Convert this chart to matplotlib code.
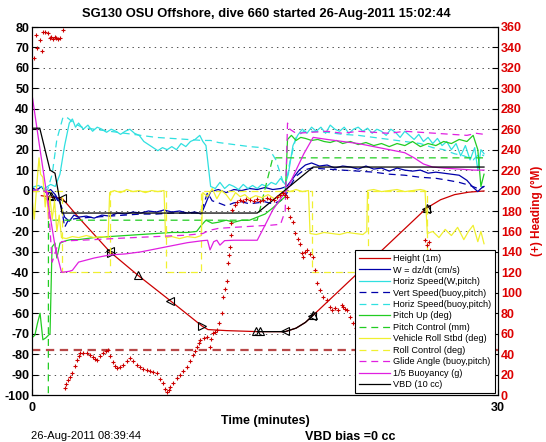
import numpy as np
import matplotlib
matplotlib.use('Agg')
import matplotlib.pyplot as plt

plt.rcParams['font.family'] = ['Liberation Sans', 'DejaVu Sans']
plt.rcParams['lines.scale_dashes'] = False
plt.rcParams['axes.unicode_minus'] = False

# ---- data: (time in minutes, value) ----
height = [(0.6, -2.5), (1.16, -3.2), (1.93, -3.7), (3.1, -14), (5.02, -30), (6.83, -41.5), (8.89, -53.8),
          (10.95, -66.3), (11.33, -68), (12.5, -68.5), (14.5, -69), (16.3, -69), (17.0, -67.3),
          (17.6, -64.5), (18.1, -61), (25.4, -8.6), (26.3, -4.5), (27.2, -2), (28.1, -0.8), (29.1, -0.2)]
apogee_span = (14.5, 18.1)   # part of the height trace drawn in black

tri_left = [(1.93, -3.7), (5.0, -29.8), (8.89, -53.8), (16.3, -68.8), (18.03, -61.3), (25.37, -8.8)]
tri_right = [(5.1, -30.5), (10.95, -66.3)]
tri_up = [(1.1, -2.4), (1.2, -2.6), (6.83, -41.5), (14.45, -68.5), (14.7, -68.8), (18.1, -60.8), (25.45, -8.3)]

w_speed = [(0, 1.5), (0.3, 0), (0.6, 2), (0.9, -1), (1.2, 0.5), (1.5, -2), (1.8, -6), (2.1, -13), (2.4, -15),
           (2.7, -12), (3.0, -13), (3.5, -12.5), (4.0, -13.5), (4.5, -12), (5.0, -12.5), (5.5, -11),
           (6.0, -11.5), (6.5, -10.5), (7.0, -11), (7.5, -10), (8.0, -10.5), (8.5, -9.5), (9.0, -10.5),
           (9.5, -10), (10.0, -11), (10.5, -10.5), (10.9, -11.5), (11.2, -6), (11.5, -0.5), (12.0, 0.5),
           (12.5, -1), (13.0, 0.5), (13.5, 0), (14.0, 1), (14.5, 0.5), (15.0, 1.5), (15.5, 0.5), (16.0, 1),
           (16.4, 2), (16.8, 6), (17.2, 10), (17.6, 12.5), (18.0, 13.5), (18.5, 12), (19.0, 12.5),
           (19.5, 11), (20.0, 12), (20.5, 11.5), (21.0, 10.5), (21.5, 12), (22.0, 10.5), (22.5, 11),
           (23.0, 9.5), (23.5, 11), (24.0, 10), (24.5, 9.5), (25.0, 10), (25.5, 8.5), (26.0, 9),
           (26.5, 8.5), (27.0, 8), (27.5, 7.5), (28.0, 5), (28.4, 1.5), (28.7, -0.5), (28.9, 1), (29.1, 2)]

horiz_speed_w = [(0, 1.5), (0.4, 2.5), (0.8, 1), (1.2, 3), (1.5, 2), (1.8, 8), (2.1, 22), (2.4, 33),
                 (2.6, 35), (2.8, 31), (3.0, 33), (3.3, 30), (3.6, 32), (3.9, 29), (4.2, 31), (4.5, 30),
                 (4.8, 28.5), (5.1, 30), (5.4, 29), (5.7, 27.5), (6.0, 29), (6.3, 30), (6.6, 28),
                 (6.9, 27), (7.2, 24), (7.5, 22.5), (7.8, 21), (8.1, 19.5), (8.4, 21), (8.7, 20),
                 (9.0, 21.5), (9.3, 20), (9.6, 23), (9.9, 21.5), (10.2, 24), (10.5, 25), (10.8, 27),
                 (11.0, 24), (11.2, 22), (11.5, 2), (11.8, 1), (12.1, 4), (12.4, 1), (12.7, 3),
                 (13.0, 2), (13.3, 0.5), (13.6, 3), (13.9, 1), (14.2, 2.5), (14.5, 1), (14.8, 3),
                 (15.1, 2), (15.4, 4), (15.7, 3), (16.0, 6), (16.3, 3), (16.5, 8), (16.8, 22),
                 (17.1, 27), (17.4, 30), (17.7, 28), (18.0, 31), (18.3, 29), (18.6, 31), (18.9, 28),
                 (19.2, 32), (19.5, 30), (19.8, 29), (20.1, 31), (20.4, 28), (20.7, 30), (21.0, 31),
                 (21.3, 29), (21.6, 30.5), (21.9, 28), (22.2, 30), (22.5, 29), (22.8, 27), (23.1, 30),
                 (23.4, 28.5), (23.7, 26), (24.0, 29), (24.3, 27), (24.6, 25), (24.9, 27.5), (25.2, 24),
                 (25.5, 26), (25.8, 23), (26.1, 25.5), (26.4, 22), (26.7, 24), (27.0, 20), (27.3, 23),
                 (27.6, 17), (27.9, 22), (28.2, 15), (28.5, 21), (28.7, 10), (28.9, 20), (29.1, 18)]

vert_speed_buoy = [(0, 0), (0.5, 1), (1.0, -1), (1.5, -3), (1.9, -8), (2.1, -18), (2.3, -15), (2.6, -14),
                   (3, -13.5), (4, -13), (5, -12.5), (6, -12), (7, -11.5), (8, -11.5), (9, -11), (10, -11),
                   (10.8, -11), (11.0, -8), (11.3, -1), (11.6, -5), (12, -6), (12.5, -7.5), (13, -6),
                   (13.5, -5.5), (14, -6.5), (14.5, -6), (15, -5.5), (15.5, -6.5), (16, -5), (16.3, -3),
                   (16.6, 2), (17.0, 7), (17.5, 10), (18, 11), (19, 10.5), (20, 10), (21, 9.5), (22, 9),
                   (23, 8), (24, 7.5), (25, 6.5), (26, 6), (26.8, 5), (27.5, 4), (28.2, 2.5), (28.7, 1),
                   (29.1, 2)]

horiz_speed_buoy = [(0, 0), (0.5, 0.5), (1.0, 0.3), (1.3, 8), (1.6, 25), (2.0, 36), (2.3, 35.5),
                    (2.7, 33), (3.2, 31), (4, 30), (5, 29), (6, 28), (7, 27), (8, 26), (9, 25.5),
                    (10, 25), (11, 24.5), (11.5, 24.5), (12, 23.5), (13, 22.5), (14, 21.5), (14.8, 21),
                    (15.3, 20), (15.7, 15), (16.0, 8), (16.3, 1), (16.6, 14), (17.0, 26), (17.5, 29),
                    (18, 29), (19, 28.5), (20, 27.5), (21, 27), (22, 26), (23, 25), (24, 24), (25, 23),
                    (25.8, 21), (26.5, 20), (27.2, 18), (27.8, 17), (28.4, 15), (28.8, 18), (29.1, 17)]

pitch_up = [(0, -72), (0.19, -70.7), (0.35, -65), (0.52, -60), (0.7, -73), (0.9, -72), (1.16, -70),
            (1.29, -27.6), (1.48, -25.7), (1.6, -33), (1.8, -25.7), (2.2, -24.5), (2.5, -24), (3, -24),
            (3.5, -23.5), (4, -23), (5, -22.5), (6, -22), (7, -21.5), (8, -21), (9, -20.5), (10, -20.5),
            (10.6, -20), (10.9, -17), (11.2, -14.5), (11.6, -16), (12, -15.5), (12.5, -14.5), (13, -15.5),
            (13.5, -14.5), (14, -14.5), (14.5, -13), (15, -11.5), (15.5, -8.5), (16.0, -5), (16.3, -3),
            (16.45, 25), (16.7, 27), (17, 24.5), (17.3, 26), (17.6, 25.5), (18, 24.5), (18.4, 25),
            (18.8, 24), (19.2, 23.5), (19.6, 24.5), (20, 23), (20.5, 24), (21, 22.5), (21.5, 23.5),
            (22, 22), (22.5, 23), (23, 21.5), (23.5, 23), (24, 22), (24.5, 24), (25, 21.5), (25.5, 23),
            (26, 22), (26.5, 24), (27, 23), (27.5, 25), (28, 24), (28.4, 27), (28.7, 20), (28.9, 2),
            (29.1, 8)]

pitch_control = [(0, -120), (1.05, -120), (1.06, -14.5), (14.5, -14.5), (15.5, 16), (29.1, 16)]

vehicle_roll = [(0, -4), (0.15, -14), (0.3, 2), (0.45, 16), (0.55, 8), (0.7, 6.5), (0.85, -8), (0.95, 0),
                (1.05, -14), (1.15, -3), (1.3, -14), (1.45, -5), (1.6, -20), (1.75, -12), (1.9, -23),
                (2.2, -23.5), (2.6, -22.5), (3.0, -23), (3.5, -22), (4.0, -23), (4.5, -22.5), (4.9, -23),
                (5.0, -1), (5.3, 0), (5.7, -1), (6.1, 0.5), (6.5, -0.5), (6.9, 0), (7.3, -1), (7.7, 0),
                (8.1, -0.5), (8.5, 0), (8.6, -23), (9.0, -22.5), (9.5, -23.5), (10.0, -22.5), (10.5, -23),
                (10.9, -22), (11.0, -1), (11.3, -3), (11.6, 1), (11.9, -4), (12.2, 0), (12.5, -2),
                (12.8, -5), (13.1, -1), (13.4, -3), (13.7, -2), (14.0, -4), (14.4, -2.5), (14.8, -3.5),
                (15.2, -2), (15.6, -4), (16.0, -2.5), (16.3, 0), (16.6, -0.5), (17.0, 0.5), (17.4, -0.5),
                (17.8, 0), (17.9, -21), (18.3, -21.5), (18.8, -20.5), (19.3, -21), (19.8, -21.5),
                (20.3, -20.5), (20.8, -21), (21.3, -21.5), (21.55, -20), (21.6, 0), (22.0, 0.5),
                (22.5, -0.5), (23.0, 0), (23.5, 0.5), (24.0, -0.5), (24.5, 0), (25.0, 0.5), (25.3, 0),
                (25.45, -21), (25.8, -20), (26.2, -23), (26.6, -19), (27.0, -22), (27.4, -18), (27.8, -24),
                (28.1, -20), (28.4, -17), (28.7, -25), (28.9, -20), (29.1, -26)]

# roll control is a step signal: value holds until the next time
roll_control = [(0, 0), (1.9, -40), (5.0, 0), (8.6, -40), (10.9, 0), (18.0, -40), (21.6, 0),
                (25.4, -40), (29.1, -40)]

glide_angle = [(0, 0), (0.5, 0.5), (1.0, -1), (1.3, -35), (1.6, -28), (1.9, -25), (2.5, -24.5), (4, -24),
               (6, -23.2), (8, -22.5), (10, -21.8), (11.0, -21), (11.4, -19.5), (12, -18.5), (13, -18),
               (14.5, -17.3), (15.3, -17), (16.0, -16.5), (16.3, -10), (16.45, 33), (16.6, 30), (17, 28),
               (18, 28.5), (19, 29), (20, 28), (21, 29), (22, 28.5), (23, 28), (24, 29), (25, 28.5),
               (26, 28), (27, 27.5), (28, 27), (28.6, 28), (29.1, 27.5)]

buoyancy = [(0, 47), (0.5, 21), (1.0, -4.5), (1.5, -28), (1.9, -40), (2.4, -39.5), (2.6, -39), (3.0, -35),
            (4.0, -33), (5.0, -31.5), (6.0, -31), (7.0, -30), (8.0, -28.5), (9.0, -27), (10.0, -25.5),
            (11.0, -24.5), (11.3, -24.3), (11.46, -29), (11.7, -25), (11.9, -24.3), (12.1, -26.7),
            (12.4, -24.5), (13.0, -24.3), (14.5, -24.3), (15.0, -17), (15.5, -9.5), (16.0, -4),
            (16.4, 0.3), (17.0, 10), (17.5, 18), (18.1, 26), (19.0, 25), (20.0, 24), (21.0, 23),
            (22.0, 21.5), (23.0, 20), (24.0, 18.5), (24.6, 16), (25.2, 13), (25.8, 11.5), (26.5, 11),
            (27.5, 10.5), (28.5, 10), (29.1, 10)]

vbd = [(0, 30.5), (0.5, 30.5), (1.16, 10), (1.48, 8.5), (1.93, -11), (14.5, -11), (18.1, 11.5), (29.1, 11.5)]

# heading (degrees magnetic, right axis)
heading = [(0.15, 330), (0.25, 352), (0.35, 339), (0.5, 347), (0.64, 337), (0.71, 355), (0.85, 355),
           (1.0, 354), (1.16, 349), (1.25, 350), (1.35, 348), (1.45, 350), (1.55, 349), (1.7, 348),
           (1.8, 349), (2.0, 357), (2.12, 7), (2.22, 11), (2.32, 15), (2.45, 18), (2.58, 21.5), (2.75, 28),
           (2.9, 34), (3.0, 38), (3.09, 41), (3.3, 41), (3.54, 41), (3.75, 39), (3.93, 37), (4.06, 35),
           (4.19, 34), (4.38, 38), (4.57, 41), (4.75, 43), (4.89, 44), (5.05, 38), (5.22, 32), (5.35, 28),
           (5.47, 26), (5.66, 27), (5.86, 29), (6.1, 33), (6.31, 36), (6.5, 33), (6.76, 29), (6.95, 27),
           (7.15, 25), (7.4, 24), (7.6, 23), (7.8, 22.5), (8.05, 21.5), (8.25, 16), (8.44, 11.7),
           (8.58, 6), (8.69, 3), (8.8, 5), (8.89, 8), (9.1, 12), (9.34, 16.6), (9.55, 20), (9.75, 23),
           (9.98, 27), (10.18, 33), (10.37, 39), (10.5, 43), (10.62, 47), (10.72, 51), (10.82, 54),
           (11.05, 56), (11.27, 57), (11.46, 47), (11.55, 55), (11.65, 61), (11.8, 62), (11.91, 64),
           (12.05, 70), (12.23, 80), (12.3, 96), (12.42, 104), (12.56, 112), (12.62, 129), (12.7, 137),
           (12.75, 145), (12.78, 157), (12.8, 168), (12.88, 181), (13.07, 186), (13.2, 189), (13.39, 191),
           (13.6, 190), (13.8, 192), (14.04, 191), (14.3, 190), (14.5, 192), (14.68, 190), (14.9, 191),
           (15.1, 193), (15.33, 192), (15.55, 191), (15.78, 194), (15.95, 196), (16.16, 198), (16.3, 196),
           (16.42, 194), (16.48, 183), (16.61, 174), (16.81, 169), (16.94, 158), (17.1, 153), (17.26, 148),
           (17.39, 139), (17.45, 135), (17.58, 140), (17.71, 142), (17.9, 138), (18.09, 135), (18.22, 122),
           (18.35, 110), (18.54, 103), (18.74, 96), (18.99, 93), (19.19, 86), (19.32, 83), (19.51, 85),
           (19.7, 83), (19.96, 88), (20.03, 86), (20.15, 84), (20.28, 83), (20.48, 76), (20.67, 70),
           (20.85, 66), (25.18, 140), (25.3, 152), (25.43, 147), (25.55, 150), (25.63, 142)]
heading_target = 44

labels = ['Height (1m)', 'W = dz/dt (cm/s)', 'Horiz Speed(W,pitch)', 'Vert Speed(buoy,pitch)',
          'Horiz Speed(buoy,pitch)', 'Pitch Up (deg)', 'Pitch Control (mm)', 'Vehicle Roll Stbd (deg)',
          'Roll Control (deg)', 'Glide Angle (buoy,pitch)', '1/5 Buoyancy (g)', 'VBD (10 cc)']


def xy(pairs):
    a = np.array(pairs, dtype=float)
    return a[:, 0], a[:, 1]


RED = '#cc0000'
BLUE = '#0000aa'
CYAN = '#30e0e0'
GREEN = '#22cc22'
YELLOW = '#f0f030'
MAGENTA = '#e020e0'
DASH = (0, (5, 3.5))
LW = 0.9

fig = plt.figure(figsize=(5.46, 4.42), dpi=100)
ax = fig.add_axes([32 / 546, 1 - 395 / 442, 466 / 546, 368 / 442])
ax2 = ax.twinx()

handles = []
t, v = xy(height)
handles += ax.plot(t, v, color=RED, lw=LW)
m = (t >= apogee_span[0]) & (t <= apogee_span[1])
ax.plot(t[m], v[m], color='k', lw=LW)
for pts, mk in [(tri_left, '<'), (tri_right, '>'), (tri_up, '^')]:
    t, v = xy(pts)
    ax.plot(t, v, ls='none', marker=mk, ms=6, mfc='none', mec='k', mew=0.8)

series = [
    (w_speed, BLUE, '-', None),
    (horiz_speed_w, CYAN, '-', None),
    (vert_speed_buoy, BLUE, DASH, None),
    (horiz_speed_buoy, CYAN, DASH, None),
    (pitch_up, GREEN, '-', None),
    (pitch_control, GREEN, DASH, None),
    (vehicle_roll, YELLOW, '-', None),
    (roll_control, YELLOW, DASH, 'steps-post'),
    (glide_angle, MAGENTA, DASH, None),
    (buoyancy, MAGENTA, '-', None),
    (vbd, 'k', '-', None),
]
for pts, c, ls, ds in series:
    t, v = xy(pts)
    kw = {'drawstyle': ds} if ds else {}
    handles += ax.plot(t, v, color=c, ls=ls, lw=LW, **kw)

ax.set_xlim(0, 30)
ax.set_ylim(-100, 80)
ax.set_xticks([0, 30])
ax.set_yticks(np.arange(-100, 81, 10))
ax.yaxis.grid(True, linestyle=(0, (1, 3)), color='#333333', lw=0.6)
ax.tick_params(axis='both', direction='in', length=4, width=0.8, labelsize=9, pad=2)
ax.tick_params(axis='x', pad=5)
for lbl in ax.get_yticklabels() + ax.get_xticklabels():
    lbl.set_fontweight('bold')

# heading on the right axis
ax2.axhline(heading_target, color='#b84848', lw=1.6, ls=(0, (6, 4)), zorder=1)
t, v = xy(heading)
ax2.plot(t, v, ls='none', marker='+', color=RED, ms=3.5, mew=0.8, zorder=3)
ax2.set_ylim(0, 360)
ax2.set_yticks(np.arange(0, 361, 20))
ax2.tick_params(axis='y', direction='in', length=4, width=0.8, labelsize=9, pad=2, labelcolor='#dd0000')
for lbl in ax2.get_yticklabels():
    lbl.set_fontweight('bold')
for a in (ax, ax2):
    for s in a.spines.values():
        s.set_linewidth(0.8)

leg = ax2.legend(handles, labels, loc='lower right', bbox_to_anchor=(495 / 546, 1 - 393 / 442),
                 bbox_transform=fig.transFigure, borderaxespad=0, fancybox=False, framealpha=1,
                 edgecolor='k', fontsize=6.6, handlelength=3.4, handletextpad=0.35,
                 labelspacing=0.27, borderpad=0.4)
leg.get_frame().set_linewidth(0.8)
leg.set_zorder(10)

fig.text(266 / 546, 1 - 14 / 442, 'SG130 OSU Offshore, dive 660 started 26-Aug-2011 15:02:44',
         ha='center', va='center', fontsize=9.3, fontweight='bold')
fig.text(265 / 546, 1 - 421 / 442, 'Time (minutes)', ha='center', va='center',
         fontsize=9, fontweight='bold')
fig.text(537 / 546, 1 - 211 / 442, '(+) Heading (°M)', ha='center', va='center', rotation=90,
         fontsize=8.5, fontweight='bold', color='#dd0000')
fig.text(31 / 546, 1 - 436 / 442, '26-Aug-2011 08:39:44', ha='left', va='center', fontsize=8)
fig.text(305 / 546, 1 - 437 / 442, 'VBD bias =0 cc', ha='left', va='center',
         fontsize=9, fontweight='bold')

fig.savefig('out.png', dpi=100)
